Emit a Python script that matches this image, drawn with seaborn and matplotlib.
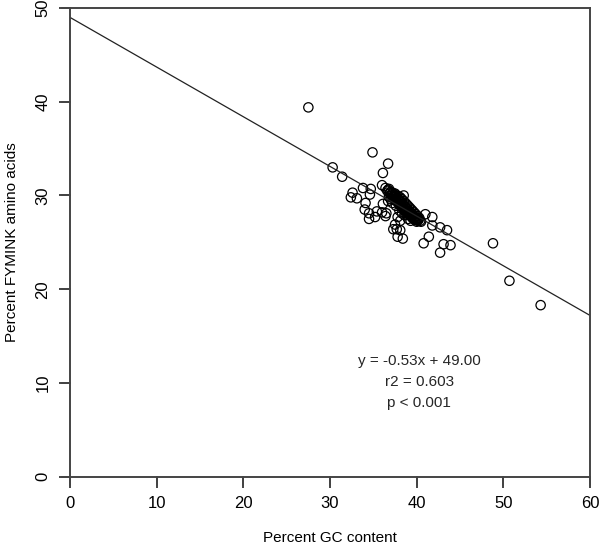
import matplotlib
matplotlib.use("Agg")
import numpy as np
import seaborn as sns
import matplotlib.pyplot as plt

sns.set_theme(style="ticks")
plt.rcParams['font.family'] = ['Liberation Sans', 'DejaVu Sans']

# percent GC content vs percent FYMINK amino acids
gc_content = [
    27.5, 30.3, 31.4, 34.9, 36.7, 36.1, 32.6, 32.4, 33.1, 33.8, 34.7, 34.6,
    34.1, 34.0, 34.5, 34.5, 35.2, 35.4, 36.0, 36.4, 36.5, 36.1, 36.0, 36.7,
    36.7, 37.8, 38.1, 37.5, 37.7, 37.3, 38.1, 37.8, 38.4, 38.5,
    41.0, 41.8, 41.8, 42.7, 43.5, 41.4, 40.8, 43.1, 43.9, 42.7,
    48.8, 50.7, 54.3,
    36.4, 36.6, 36.8, 36.9, 37.0, 37.1, 37.2, 37.3, 37.4, 37.5, 37.5, 37.6,
    37.7, 37.7, 37.8, 37.9, 37.9, 38.0, 38.0, 38.1, 38.2, 38.2, 38.3, 38.4,
    38.4, 38.5, 38.6, 38.6, 38.7, 38.8, 38.8, 38.9, 39.0, 39.0, 39.1, 39.2,
    39.2, 39.3, 39.4, 39.4, 39.5, 39.6, 39.6, 39.7, 39.8, 39.8, 39.9, 40.0,
    40.0, 40.1, 40.2, 40.3, 40.4, 37.2, 37.6, 38.0, 38.3, 37.0, 36.8, 38.6,
    39.0, 39.3,
    37.4, 37.8, 38.2, 38.5, 38.9, 39.1, 39.5, 39.9, 40.2, 40.5, 37.1, 37.5,
    38.1, 38.7, 39.2, 39.7, 40.1, 36.9, 37.3, 38.4,
]
fymink = [
    39.4, 33.0, 32.0, 34.6, 33.4, 32.4, 30.3, 29.8, 29.7, 30.8, 30.7, 30.1,
    29.2, 28.5, 28.1, 27.5, 27.7, 28.3, 28.2, 27.8, 28.1, 29.1, 31.1, 30.6,
    29.4, 27.7, 27.3, 26.9, 26.4, 26.4, 26.3, 25.6, 25.4, 30.0,
    28.0, 27.7, 26.8, 26.6, 26.3, 25.6, 24.9, 24.8, 24.7, 23.9,
    24.9, 20.9, 18.3,
    30.8, 30.5, 30.7, 30.2, 30.4, 30.0, 30.3, 29.8, 30.1, 29.6, 30.2, 29.9,
    29.4, 30.0, 29.7, 29.2, 29.9, 29.5, 29.0, 29.8, 29.3, 28.8, 29.6, 29.1,
    28.6, 29.4, 28.9, 28.4, 29.2, 28.7, 28.2, 29.0, 28.5, 28.0, 28.8, 28.3,
    27.9, 28.6, 28.1, 27.7, 28.4, 27.9, 27.5, 28.2, 27.7, 27.4, 28.0, 27.5,
    27.2, 27.8, 27.4, 27.6, 27.3, 29.2, 28.9, 28.4, 28.1, 29.6, 29.9, 27.9,
    27.5, 27.3,
    29.5, 29.3, 28.9, 28.6, 28.3, 28.2, 27.8, 27.6, 27.5, 27.2, 30.1, 29.8,
    29.1, 28.5, 28.0, 27.6, 27.3, 30.3, 29.9, 28.8,
]

slope = -0.53
intercept = 49.00
stats_text = ["y = -0.53x + 49.00", "r2 = 0.603", "p < 0.001"]
x_ticks = [0, 10, 20, 30, 40, 50, 60]
y_ticks = [0, 10, 20, 30, 40, 50]

fig = plt.figure(figsize=(6, 5.46), dpi=100)
ax = fig.add_axes([0.1167, 0.127, 0.8667, 0.8583])

sns.scatterplot(x=gc_content, y=fymink, ax=ax, s=45,
                facecolor="none", edgecolor="black", linewidth=0.9)

line_x = np.array([0, 60])
ax.plot(line_x, slope * line_x + intercept, color="#222222", lw=0.9)

ax.set_xlim(0, 60)
ax.set_ylim(0, 50)
ax.set_xticks(x_ticks)
ax.set_yticks(y_ticks)
for sp in ax.spines.values():
    sp.set_color("#444444")
    sp.set_linewidth(1.4)

# explicit outward tick marks (8 px), in case the axis tick markers drop out
tick_x_len = 8 / (0.8583 * 546)
tick_y_len = 8 / (0.8667 * 600)
for t in x_ticks:
    ax.plot([t, t], [0, -tick_x_len], transform=ax.get_xaxis_transform(),
            color="#444444", lw=1.4, clip_on=False)
for t in y_ticks:
    ax.plot([0, -tick_y_len], [t, t], transform=ax.get_yaxis_transform(),
            color="#444444", lw=1.4, clip_on=False)

ax.set_xlabel("Percent GC content", fontsize=11, labelpad=14, color="black")
ax.set_ylabel("Percent FYMINK amino acids", fontsize=11, labelpad=12,
              color="black")

for i, t in enumerate(stats_text):
    ax.text(40.3, 12.3 - 2.2 * i, t, ha="center", va="center", fontsize=11)

ax.tick_params(axis="both", length=8, width=1.4, color="#444444",
               direction="out", labelsize=12, labelcolor="black", pad=6)
ax.tick_params(axis="y", labelrotation=90)
plt.setp(ax.get_yticklabels(), va="center")

fig.savefig("out.png", dpi=100)
